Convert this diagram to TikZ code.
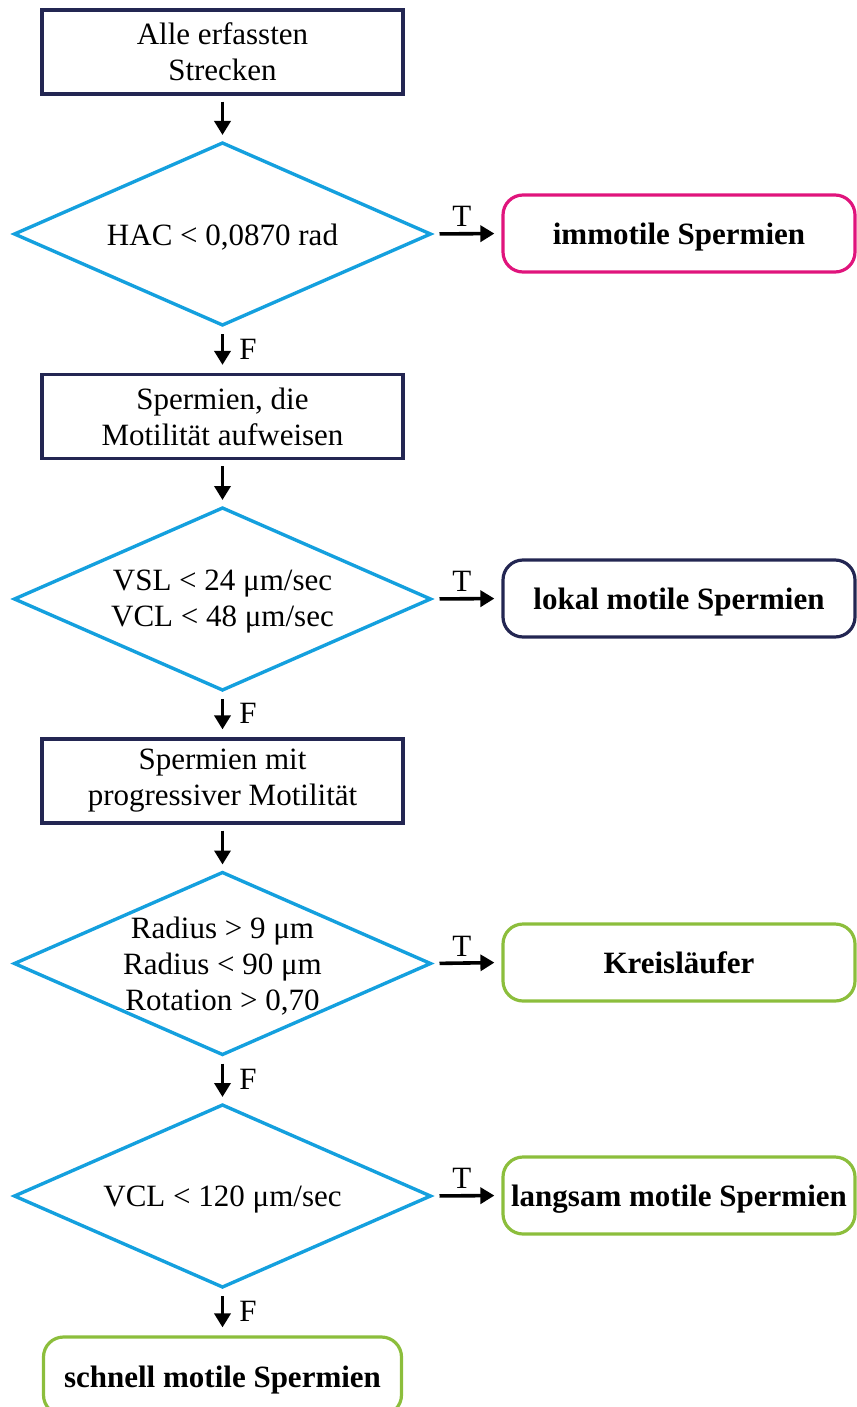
\documentclass[tikz,border=0pt]{standalone}
\usepackage{fontspec}
\setmainfont{Liberation Serif}
\usetikzlibrary{shapes.geometric,arrows.meta}
\definecolor{navy}{RGB}{35,38,82}
\definecolor{cyanb}{RGB}{20,160,222}
\definecolor{pinkb}{RGB}{224,20,124}
\definecolor{greenb}{RGB}{140,190,60}
\tikzset{
  txt/.style={font=\fontsize{31}{36}\selectfont, align=center, inner sep=0pt},
  sqbox/.style={txt, draw=navy, line width=3.2pt, minimum width=361pt, minimum height=84pt, inner sep=0pt},
  dia/.style={draw=cyanb, line width=3.4pt, shape=diamond, aspect=2.286, minimum width=416pt, minimum height=182pt, inner sep=0pt, outer sep=0pt},
  rbox/.style={txt, font=\fontsize{31}{36}\selectfont\bfseries, line width=3.2pt, rounded corners=20pt, minimum width=352pt, minimum height=77pt, inner sep=0pt, text height=29pt, text depth=7pt},
  arr/.style={line width=3.6pt, -{Triangle[length=14pt,width=16pt]}},
  lbl/.style={font=\fontsize{31}{36}\selectfont, inner sep=0pt}
}
\begin{document}
\begin{tikzpicture}[x=1pt,y=-1pt]
\useasboundingbox (0,0) rectangle (856,1407);
% main column
\node[sqbox] (b1) at (222.5,52) {Alle erfassten\\Strecken};
\node[dia] (d1) at (222.5,234) {};
\node[txt, yshift=-3pt] (t1) at (d1.center) {HAC < 0,0870 rad};
\node[sqbox] (b2) at (222.5,416.5) {Spermien, die\\Motilität aufweisen};
\node[dia] (d2) at (222.5,599) {};
\node[txt, yshift=-3pt] (t2) at (d2.center) {VSL < 24 μm/sec\\VCL < 48 μm/sec};
\node[sqbox] (b3) at (222.5,781) {Spermien mit\\progressiver Motilität};
\node[dia] (d3) at (222.5,963.5) {};
\node[txt, yshift=-3pt] (t3) at (d3.center) {Radius > 9 μm\\Radius < 90 μm\\Rotation > 0,70};
\node[dia] (d4) at (222.5,1196) {};
\node[txt, yshift=-3pt] (t4) at (d4.center) {VCL < 120 μm/sec};
\node[rbox, draw=greenb, minimum width=358pt, minimum height=78pt] (e5) at (222.5,1376) {schnell motile Spermien};
% right column
\node[rbox, draw=pinkb] (e1) at (679,233.5) {immotile Spermien};
\node[rbox, draw=navy] (e2) at (679,598.5) {lokal motile Spermien};
\node[rbox, draw=greenb] (e3) at (679,962.5) {Kreisläufer};
\node[rbox, draw=greenb] (e4) at (679,1195.5) {langsam motile Spermien};
% vertical arrows
\draw[arr, shorten <=6pt, shorten >=8pt] (b1) -- (d1);
\draw[arr, shorten <=9pt, shorten >=8pt] (d1) -- node[lbl, right=15pt, pos=0.5] {F} (b2);
\draw[arr, shorten <=6pt, shorten >=8pt] (b2) -- (d2);
\draw[arr, shorten <=9pt, shorten >=8pt] (d2) -- node[lbl, right=15pt, pos=0.5] {F} (b3);
\draw[arr, shorten <=6pt, shorten >=8pt] (b3) -- (d3);
\draw[arr, shorten <=9pt, shorten >=8pt] (d3) -- node[lbl, right=15pt, pos=0.5] {F} (d4);
\draw[arr, shorten <=9pt, shorten >=8pt] (d4) -- node[lbl, right=15pt, pos=0.5] {F} (e5);
% horizontal arrows
\draw[arr, shorten <=9pt, shorten >=7pt] (d1.east) -- node[lbl, above=5pt, xshift=-4pt] {T} (e1.west);
\draw[arr, shorten <=9pt, shorten >=7pt] (d2.east) -- node[lbl, above=5pt, xshift=-4pt] {T} (e2.west);
\draw[arr, shorten <=9pt, shorten >=7pt] (d3.east) -- node[lbl, above=5pt, xshift=-4pt] {T} (e3.west);
\draw[arr, shorten <=9pt, shorten >=7pt] (d4.east) -- node[lbl, above=5pt, xshift=-4pt] {T} (e4.west);
\end{tikzpicture}
\end{document}
